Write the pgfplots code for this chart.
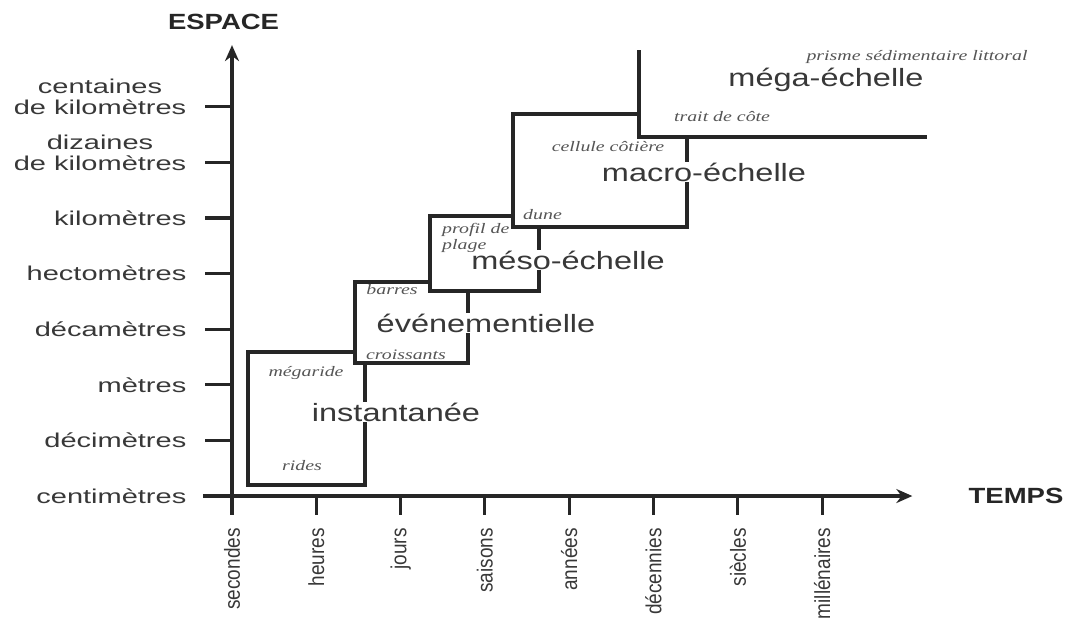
\documentclass[border=0pt]{standalone}
\usepackage{pgfplots}
\pgfplotsset{compat=1.18}
\usepackage{fontspec}
\setmainfont{Liberation Sans}
\newfontfamily\ital{Liberation Serif}
\usetikzlibrary{arrows.meta}
\definecolor{linec}{HTML}{262626}
\definecolor{txt}{HTML}{383838}
\definecolor{itc}{HTML}{555555}
\newcommand{\biglab}[1]{{\fontsize{25bp}{30bp}\selectfont\scalebox{1.3}[1]{#1}}}
\newcommand{\tl}[1]{{\fontsize{20bp}{22bp}\selectfont\scalebox{1.45}[1]{#1}}}
\newcommand{\xl}[1]{{\fontsize{19bp}{22bp}\selectfont\scalebox{1}[1.15]{#1}}}
\newcommand{\sm}[1]{{\ital\itshape\fontsize{14.5bp}{16bp}\selectfont\scalebox{1.37}[1]{#1}}}
\begin{document}
\begin{tikzpicture}
\begin{axis}[
  x=84.3bp, y=55.6bp,
  xmin=-0.344, xmax=8.07, ymin=0, ymax=8.11,
  hide axis,
  clip=false,
  unbounded coords=jump,
  boxline/.style={line width=3.1bp, draw=linec, no markers, line join=miter, line cap=rect},
  axisline/.style={line width=3.1bp, draw=linec, no markers, -{Stealth[length=16bp,width=14bp]}},
  tickline/.style={line width=3.1bp, draw=linec, no markers},
]
% axes
\addplot[axisline] coordinates {(-0.344,0) (8.07,0)};
\addplot[axisline] coordinates {(0,0) (0,8.11)};
% ticks
\addplot[tickline] coordinates {(0,0) (0,-0.342) (nan,nan) (1,0) (1,-0.342) (nan,nan) (2,0) (2,-0.342) (nan,nan) (3,0) (3,-0.342) (nan,nan) (4,0) (4,-0.342) (nan,nan) (5,0) (5,-0.342) (nan,nan) (6,0) (6,-0.342) (nan,nan) (7,0) (7,-0.342)};
\addplot[tickline] coordinates {(0,0) (-0.32,0) (nan,nan) (0,1) (-0.32,1) (nan,nan) (0,2) (-0.32,2) (nan,nan) (0,3) (-0.32,3) (nan,nan) (0,4) (-0.32,4) (nan,nan) (0,5) (-0.32,5) (nan,nan) (0,6) (-0.32,6) (nan,nan) (0,7) (-0.32,7)};
% boxes
\addplot[boxline] coordinates {(1.578,2.392) (1.578,0.198) (0.19,0.198) (0.19,2.59) (1.459,2.59)};
\addplot[boxline] coordinates {(2.80,3.687) (2.80,2.392) (1.459,2.392) (1.459,3.849) (2.349,3.849)};
\addplot[boxline] coordinates {(3.642,4.838) (3.642,3.687) (2.349,3.687) (2.349,5.036) (3.333,5.036)};
\addplot[boxline] coordinates {(5.397,6.457) (5.397,4.838) (3.333,4.838) (3.333,6.871) (4.828,6.871)};
\addplot[boxline] coordinates {(4.828,7.986) (4.828,6.457) (8.221,6.457)};

% scale labels
\node[fill=white, inner sep=1bp, text=txt] at (axis cs:1.945,1.511) {\biglab{instantanée}};
\node[fill=white, inner sep=1bp, text=txt] at (axis cs:3.013,3.112) {\biglab{événementielle}};
\node[fill=white, inner sep=1bp, text=txt] at (axis cs:3.986,4.245) {\biglab{méso-échelle}};
\node[fill=white, inner sep=1bp, text=txt] at (axis cs:5.599,5.827) {\biglab{macro-échelle}};
\node[fill=white, inner sep=1bp, text=txt] at (axis cs:7.046,7.482) {\biglab{méga-échelle}};

% small italic labels
\node[text=itc, inner sep=0pt] at (axis cs:0.878,2.212) {\sm{mégaride}};
\node[text=itc, inner sep=0pt] at (axis cs:0.830,0.540) {\sm{rides}};
\node[text=itc, inner sep=0pt] at (axis cs:2.064,2.536) {\sm{croissants}};
\node[text=itc, inner sep=0pt] at (axis cs:1.898,3.705) {\sm{barres}};
\node[text=itc, inner sep=0pt, anchor=west] at (axis cs:2.491,4.784) {\sm{profil de}};
\node[text=itc, inner sep=0pt, anchor=west] at (axis cs:2.491,4.496) {\sm{plage}};
\node[text=itc, inner sep=0pt, anchor=west] at (axis cs:3.452,5.054) {\sm{dune}};
\node[text=itc, inner sep=0pt] at (axis cs:4.460,6.277) {\sm{cellule côtière}};
\node[text=itc, inner sep=0pt] at (axis cs:5.813,6.817) {\sm{trait de côte}};
\node[text=itc, inner sep=0pt] at (axis cs:8.126,7.896) {\sm{prisme sédimentaire littoral}};

% y tick labels
\node[text=txt, anchor=east, inner sep=0pt] at (axis cs:-0.54,0) {\tl{centimètres}};
\node[text=txt, anchor=east, inner sep=0pt] at (axis cs:-0.54,1) {\tl{décimètres}};
\node[text=txt, anchor=east, inner sep=0pt] at (axis cs:-0.54,2) {\tl{mètres}};
\node[text=txt, anchor=east, inner sep=0pt] at (axis cs:-0.54,3) {\tl{décamètres}};
\node[text=txt, anchor=east, inner sep=0pt] at (axis cs:-0.54,4) {\tl{hectomètres}};
\node[text=txt, anchor=east, inner sep=0pt] at (axis cs:-0.54,5) {\tl{kilomètres}};
\node[text=txt, anchor=east, inner sep=0pt, align=center, yshift=10bp, font=\fontsize{20bp}{21bp}\selectfont] at (axis cs:-0.54,6) {\tl{dizaines}\\\tl{de kilomètres}};
\node[text=txt, anchor=east, inner sep=0pt, align=center, yshift=10bp, font=\fontsize{20bp}{21bp}\selectfont] at (axis cs:-0.54,7) {\tl{centaines}\\\tl{de kilomètres}};

% x tick labels
\node[text=txt, anchor=east, rotate=90, inner sep=0pt] at (axis cs:0,-0.576) {\xl{secondes}};
\node[text=txt, anchor=east, rotate=90, inner sep=0pt] at (axis cs:1,-0.576) {\xl{heures}};
\node[text=txt, anchor=east, rotate=90, inner sep=0pt] at (axis cs:2,-0.576) {\xl{jours}};
\node[text=txt, anchor=east, rotate=90, inner sep=0pt] at (axis cs:3,-0.576) {\xl{saisons}};
\node[text=txt, anchor=east, rotate=90, inner sep=0pt] at (axis cs:4,-0.576) {\xl{années}};
\node[text=txt, anchor=east, rotate=90, inner sep=0pt] at (axis cs:5,-0.576) {\xl{décennies}};
\node[text=txt, anchor=east, rotate=90, inner sep=0pt] at (axis cs:6,-0.576) {\xl{siècles}};
\node[text=txt, anchor=east, rotate=90, inner sep=0pt] at (axis cs:7,-0.576) {\xl{millénaires}};

% axis titles
\node[text=linec, inner sep=0pt] at (axis cs:-0.1,8.525) {\fontsize{22bp}{22bp}\selectfont\bfseries\scalebox{1.25}[1]{ESPACE}};
\node[text=linec, inner sep=0pt] at (axis cs:9.30,0.0) {\fontsize{22bp}{22bp}\selectfont\bfseries\scalebox{1.25}[1]{TEMPS}};

\coordinate (bl) at (axis cs:-2.752,-2.338);
\coordinate (tr) at (axis cs:9.893,8.921);
\end{axis}
\pgfresetboundingbox
\useasboundingbox (bl) rectangle (tr);
\end{tikzpicture}
\end{document}
